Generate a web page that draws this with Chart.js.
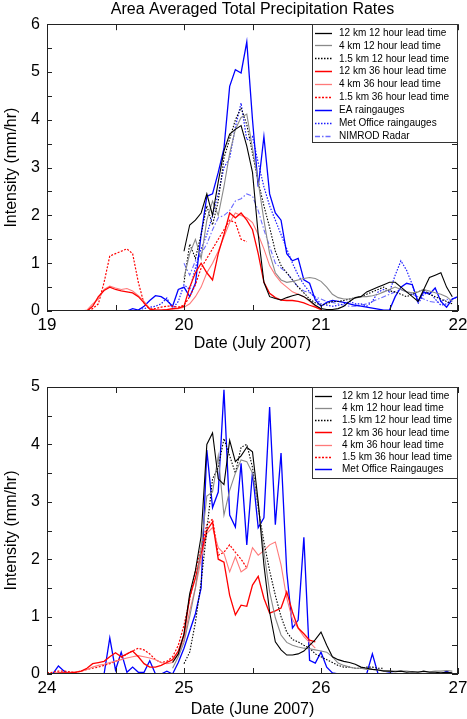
<!DOCTYPE html>
<html><head><meta charset="utf-8">
<script src="https://cdn.jsdelivr.net/npm/chart.js@4.4.1/dist/chart.umd.min.js"></script>
<style>
html,body{margin:0;padding:0;background:#fff;}
#c1{position:absolute;left:0;top:0;}
#c2{position:absolute;left:0;top:355px;}
</style></head><body>
<canvas id="c1" width="467" height="355"></canvas>
<canvas id="c2" width="467" height="364"></canvas>
<script>
// ---------- July 2007 (top panel), hourly values, start = hour index after 19 July 00:00 ----------
const julyDayOrigin = 19;
const julyXTicks = [19, 20, 21, 22];
const julyYTicks = [0, 1, 2, 3, 4, 5, 6];
const julyLabels = ['12 km 12 hour lead time','4 km 12 hour lead time','1.5 km 12 hour lead time',
  '12 km 36 hour lead time','4 km 36 hour lead time','1.5 km 36 hour lead time',
  'EA raingauges','Met Office raingauges','NIMROD Radar'];
const julyStartHours = [24, 24, 24, 6, 6, 6, 14, 14, 24];

const jul12km12h = [1.25,1.8,1.9,2.05,2.45,2.0,2.7,3.35,3.7,3.8,3.88,3.45,2.9,1.6,0.6,0.3,0.26,0.23,0.28,0.32,0.35,0.3,0.22,0.12,
  0.05,0.03,0.03,0.05,0.1,0.2,0.28,0.3,0.4,0.45,0.5,0.55,0.6,0.6,0.5,0.4,0.3,0.2,0.45,0.7,0.75,0.8,0.5,0.3];
const jul4km12h = [0.7,1.2,1.5,1.1,1.9,2.3,2.0,2.6,3.3,3.8,4.05,4.12,3.4,2.7,1.9,1.2,0.8,0.65,0.6,0.62,0.65,0.68,0.7,0.68,
  0.62,0.5,0.35,0.28,0.25,0.25,0.27,0.3,0.3,0.32,0.35,0.4,0.45,0.5,0.45,0.4,0.38,0.4,0.45,0.42,0.38,0.35,0.3,0.2];
const jul15km12h = [0.6,1.4,1.1,1.6,2.2,1.8,2.3,3.2,3.6,4.0,4.25,3.9,3.3,2.7,2.2,1.75,1.25,0.95,0.8,0.65,0.5,0.38,0.25,0.17,
  0.12,0.15,0.2,0.2,0.22,0.25,0.28,0.3,0.35,0.4,0.45,0.5,0.42,0.4,0.35,0.3,0.35,0.4,0.45,0.35,0.3,0.25,0.2,0.15];
const jul12km36h = [0,0,0.1,0.3,0.43,0.5,0.45,0.42,0.4,0.38,0.3,0.17,0.04,0.02,0.02,0.03,0.05,0.06,
  0.1,0.5,0.8,1.0,0.8,0.65,1.2,1.6,2.05,1.95,2.05,1.9,1.7,1.2,0.6,0.37,0.28,0.23,0.22,0.22,0.2,0.17,0.12,0.08,0.03];
const jul4km36h = [0,0.02,0.15,0.25,0.45,0.52,0.48,0.45,0.47,0.42,0.32,0.2,0.05,0.02,0.02,0.03,0.04,0.05,
  0.08,0.15,0.3,0.5,0.8,1.0,1.25,1.55,1.85,2.05,2.0,1.95,1.85,1.6,1.3,0.95,0.75,0.6,0.5,0.4,0.35,0.3,0.2,0.1,0.05];
const jul15km36h = [0,0,0.05,0.15,0.6,1.15,1.2,1.25,1.3,1.2,0.6,0.15,0.05,0.05,0.08,0.1,0.1,0.08,
  0.12,0.3,0.55,0.9,1.1,1.3,1.5,1.7,1.9,1.85,1.5,1.45];
const julEA = [0,0.05,0.02,0.1,0.22,0.32,0.3,0.22,0.1,0.45,0.5,0.3,0.58,1.6,2.4,2.45,2.9,3.4,4.7,5.05,4.98,5.63,4.0,2.6,3.65,
  2.45,2.05,1.9,1.2,1.05,1.1,0.65,0.58,0.23,0.1,0.18,0.22,0.2,0.18,0.15,0.12,0.1,0.08,0.06,0.04,0.02,0.02,0.3,0.5,0.58,0.55,
  0.2,0.4,0.35,0.48,0.2,0.08,0.25,0.3];
const julMetOffice = [0,0,0.03,0.05,0.08,0.1,0.15,0.27,0.05,0.2,0.55,0.45,0.9,1.3,1.6,2.0,2.45,3.0,3.2,3.85,4.35,3.58,3.65,
  3.1,2.6,2.2,1.9,1.6,1.3,1.0,0.75,0.55,0.4,0.28,0.15,0.12,0.1,0.12,0.15,0.2,0.15,0.15,0.1,0.2,0.4,0.45,0.4,0.75,1.05,0.85,
  0.55,0.15,0.35,0.4,0.25,0.12,0.15,0.25,0.3];
const julNimrod = [1.0,0.75,1.05,1.2,1.4,1.7,1.95,2.0,2.1,2.3,2.35,2.45,2.4,2.1,1.7,1.35,1.0,0.9,0.8,0.65,0.5,0.42,0.38,0.3,
  0.25,0.2,0.18,0.15,0.12,0.1,0.1,0.12,0.15,0.2,0.25,0.3,0.35,0.4,0.45,0.4,0.35,0.3,0.25,0.2,0.18,0.2,0.25,0.2];

// ---------- June 2007 (bottom panel), start = hour index after 24 June 00:00 ----------
const juneDayOrigin = 24;
const juneXTicks = [24, 25, 26, 27];
const juneYTicks = [0, 1, 2, 3, 4, 5];
const juneLabels = ['12 km 12 hour lead time','4 km 12 hour lead time','1.5 km 12 hour lead time',
  '12 km 36 hour lead time','4 km 36 hour lead time','1.5 km 36 hour lead time','Met Office Raingauges'];
const juneStartHours = [22, 22, 24, 0, 0, 0, 0];

const jun12km12h = [0.2,0.35,0.7,1.4,1.8,2.4,4.0,4.2,3.4,3.3,4.07,3.7,3.8,3.95,3.87,3.0,1.9,1.08,0.56,0.42,0.33,0.33,0.35,0.4,
  0.5,0.6,0.73,0.5,0.3,0.25,0.22,0.2,0.17,0.12,0.1,0.08,0.07,0.05,0.05,0.04,0.05,0.03,0.04,0.03,0.05,0.03,0.03,0.02,0.03,0.02];
const jun4km12h = [0.1,0.3,0.55,1.0,1.5,2.2,3.1,3.17,3.8,2.77,3.2,3.5,3.73,3.7,3.5,2.95,2.13,1.43,0.98,0.68,0.55,0.5,0.47,0.45,
  0.44,0.42,0.4,0.38,0.3,0.19,0.15,0.12,0.1,0.1,0.08,0.08,0.07,0.06,0.05,0.05,0.05,0.05,0.04,0.04,0.04,0.04,0.05,0.05,0.06,0.05];
const jun15km12h = [0.18,0.38,0.9,1.6,2.5,3.4,3.6,4.1,3.8,3.5,3.95,4.0,3.6,2.9,2.3,1.8,1.37,1.0,0.73,0.6,0.56,0.5,0.45,0.35,
  0.3,0.25,0.2,0.15,0.12,0.12,0.1,0.1,0.12,0.12,0.1,0.1];
const jun12km36h = [0,0,0.02,0.02,0.02,0.03,0.05,0.1,0.18,0.2,0.22,0.3,0.37,0.3,0.35,0.4,0.3,0.18,0.12,0.12,0.15,0.2,0.25,0.4,
  0.68,1.34,1.67,2.1,2.5,2.65,2.0,1.95,1.37,1.03,1.2,1.18,1.55,1.7,1.32,1.06,1.1,1.15,1.43,1.08,0.8,0.7,0.59,0.56];
const jun4km36h = [0,0,0.01,0.02,0.03,0.04,0.05,0.08,0.12,0.15,0.17,0.2,0.22,0.25,0.28,0.3,0.32,0.3,0.28,0.25,0.2,0.18,0.2,0.35,
  0.6,1.1,1.5,2.0,2.45,2.55,2.2,2.1,1.78,2.04,1.78,1.85,2.2,2.07,2.15,2.25,2.3,1.9,1.32,0.95,0.8,0.65,0.55,0.45];
const jun15km36h = [0.02,0.03,0.05,0.05,0.04,0.03,0.05,0.08,0.1,0.12,0.15,0.18,0.22,0.28,0.35,0.4,0.45,0.42,0.35,0.25,0.2,0.22,0.3,0.5,
  0.85,1.3,1.8,2.2,2.6,2.7,2.07,2.12,2.25,2.12,2.0,1.85];
const junMetOffice = [0,0,0.14,0.05,0,0,0,0,0,0,0,0.63,0.07,0.38,0.03,0.12,0.03,0.03,0.23,0,0,0.05,0,0.2,
  0.45,0.75,1.05,1.5,3.9,2.9,3.17,4.95,2.77,2.56,3.67,2.25,3.52,2.55,2.72,4.65,2.6,3.85,1.78,0.8,0.94,2.38,0.24,0.19,
  0.38,0.12,0.02,0,0,0,0,0,0,0.35,0,0,0.02,0,0,0,0,0,0,0,0,0,0.05,0];

// ---------- styles (kept separate from data) ----------
const julyStyles = [
  {c:'#000000', w:1.1, d:[]}, {c:'#8a8a8a', w:1.1, d:[]}, {c:'#000000', w:1.1, d:[1.5,1.5]},
  {c:'#ff0000', w:1.3, d:[]}, {c:'#ff7a7a', w:1.1, d:[]}, {c:'#ff0000', w:1.2, d:[2,1.5]},
  {c:'#0000ff', w:1.3, d:[]}, {c:'#1a1aff', w:1.2, d:[1.5,1.5]}, {c:'#6b6bff', w:1.1, d:[5,2,1.5,2]}
];
const juneStyles = [
  {c:'#000000', w:1.1, d:[]}, {c:'#8a8a8a', w:1.1, d:[]}, {c:'#000000', w:1.1, d:[1.5,1.5]},
  {c:'#ff0000', w:1.3, d:[]}, {c:'#ff7a7a', w:1.1, d:[]}, {c:'#ff0000', w:1.2, d:[2,1.5]},
  {c:'#0000ff', w:1.3, d:[]}
];

const FONT = "'Liberation Sans', Arial, Helvetica, sans-serif";
Chart.defaults.font.family = FONT;
Chart.defaults.color = '#000';

function toPoints(origin, startHour, values) {
  return values.map((v, i) => ({x: origin + (startHour + i) / 24, y: v}));
}

function buildDatasets(origin, labels, starts, series, styles) {
  return labels.map((lab, i) => ({
    label: lab,
    data: toPoints(origin, starts[i], series[i]),
    borderColor: styles[i].c,
    backgroundColor: styles[i].c,
    borderWidth: styles[i].w,
    borderDash: styles[i].d,
    pointRadius: 0,
    fill: false,
    tension: 0
  }));
}

// frame, inner ticks and boxed legend drawn through the chart's scales
const framePlugin = {
  id: 'frameLegend',
  afterDatasetsDraw(chart, args, opts) {
    const ctx = chart.ctx;
    const a = chart.chartArea;
    const xs = chart.scales.x, ys = chart.scales.y;
    ctx.save();
    ctx.strokeStyle = '#222';
    ctx.lineWidth = 1;
    ctx.setLineDash([]);
    ctx.strokeRect(Math.round(a.left) + 0.5, Math.round(a.top) + 0.5,
      Math.round(a.right - a.left) - 1, Math.round(a.bottom - a.top) - 1);
    ctx.beginPath();
    for (let v = xs.min; v <= xs.max + 1e-9; v += 0.5) {
      const px = Math.round(xs.getPixelForValue(v)) + 0.5;
      ctx.moveTo(px, a.bottom); ctx.lineTo(px, a.bottom - 6);
      ctx.moveTo(px, a.top); ctx.lineTo(px, a.top + 6);
    }
    for (let v = ys.min; v <= ys.max + 1e-9; v += 0.5) {
      const py = Math.round(ys.getPixelForValue(v)) + 0.5;
      ctx.moveTo(a.left, py); ctx.lineTo(a.left + 5, py);
      ctx.moveTo(a.right, py); ctx.lineTo(a.right - 6, py);
    }
    ctx.stroke();

    // legend box
    const bx = Math.round(a.right) - 146, by = Math.round(a.top), bw = 145, bh = opts.height;
    ctx.fillStyle = '#fff';
    ctx.fillRect(bx, by, bw, bh);
    ctx.strokeStyle = '#333';
    ctx.strokeRect(bx + 0.5, by + 0.5, bw, bh);
    ctx.font = '10px ' + FONT;
    ctx.textBaseline = 'middle';
    ctx.textAlign = 'left';
    chart.data.datasets.forEach((ds, i) => {
      const y = by + opts.first + i * opts.row;
      ctx.beginPath();
      ctx.strokeStyle = ds.borderColor;
      ctx.lineWidth = ds.borderWidth + 0.2;
      ctx.setLineDash(ds.borderDash || []);
      ctx.moveTo(bx + 3, Math.round(y) + 0.5); ctx.lineTo(bx + 20, Math.round(y) + 0.5);
      ctx.stroke();
      ctx.setLineDash([]);
      ctx.fillStyle = '#000';
      ctx.fillText(ds.label, bx + opts.textX, y + 0.5);
    });
    ctx.restore();
  }
};

function makeChart(canvas, cfg) {
  return new Chart(canvas, {
    type: 'line',
    data: {datasets: cfg.datasets},
    plugins: [framePlugin],
    options: {
      responsive: false,
      animation: false,
      events: [],
      layout: {padding: {left: 0, right: 9, top: cfg.padTop, bottom: 0}},
      plugins: {
        legend: {display: false},
        tooltip: {enabled: false},
        title: cfg.title ? {display: true, text: cfg.title, fullSize: false, font: {size: 16, weight: 'normal'},
          padding: {top: 0, bottom: 5}, color: '#000'} : {display: false},
        frameLegend: {height: cfg.legendH, first: cfg.legendFirst, row: cfg.legendRow, textX: cfg.legendTextX}
      },
      scales: {
        x: {
          type: 'linear', min: cfg.xTicks[0], max: cfg.xTicks[cfg.xTicks.length - 1],
          afterFit: (s) => { s.height = cfg.xHeight; s.paddingLeft = 0; s.paddingRight = 0; },
          afterBuildTicks: (s) => { s.ticks = cfg.xTicks.map(v => ({value: v})); },
          grid: {display: false, drawTicks: false},
          border: {display: false},
          ticks: {font: {size: 17}, padding: 4, maxRotation: 0, color: '#000'},
          title: {display: true, text: cfg.xTitle, font: {size: 16}, padding: {top: 0, bottom: cfg.xTitlePad}, color: '#000'}
        },
        y: {
          type: 'linear', min: cfg.yTicks[0], max: cfg.yTicks[cfg.yTicks.length - 1],
          afterFit: (s) => { s.width = 47; s.paddingTop = 0; s.paddingBottom = 0; },
          afterBuildTicks: (s) => { s.ticks = cfg.yTicks.map(v => ({value: v})); },
          grid: {display: false, drawTicks: false},
          border: {display: false},
          ticks: {font: {size: 16}, padding: 7, color: '#000'},
          title: {display: true, text: 'Intensity (mm/hr)', font: {size: 16}, padding: {top: 2, bottom: 0}, color: '#000'}
        }
      }
    }
  });
}

makeChart(document.getElementById('c1'), {
  datasets: buildDatasets(julyDayOrigin, julyLabels, julyStartHours,
    [jul12km12h, jul4km12h, jul15km12h, jul12km36h, jul4km36h, jul15km36h, julEA, julMetOffice, julNimrod], julyStyles),
  title: 'Area Averaged Total Precipitation Rates',
  padTop: 0, xTicks: julyXTicks, yTicks: julyYTicks, xTitle: 'Date (July 2007)',
  xHeight: 44, xTitlePad: 2,
  legendH: 118, legendFirst: 8.5, legendRow: 12.9, legendTextX: 27
});

makeChart(document.getElementById('c2'), {
  datasets: buildDatasets(juneDayOrigin, juneLabels, juneStartHours,
    [jun12km12h, jun4km12h, jun15km12h, jun12km36h, jun4km36h, jun15km36h, junMetOffice], juneStyles),
  title: null,
  padTop: 32, xTicks: juneXTicks, yTicks: juneYTicks, xTitle: 'Date (June 2007)',
  xHeight: 45, xTitlePad: 0,
  legendH: 91, legendFirst: 8.7, legendRow: 12.2, legendTextX: 30
});
</script></body></html>
